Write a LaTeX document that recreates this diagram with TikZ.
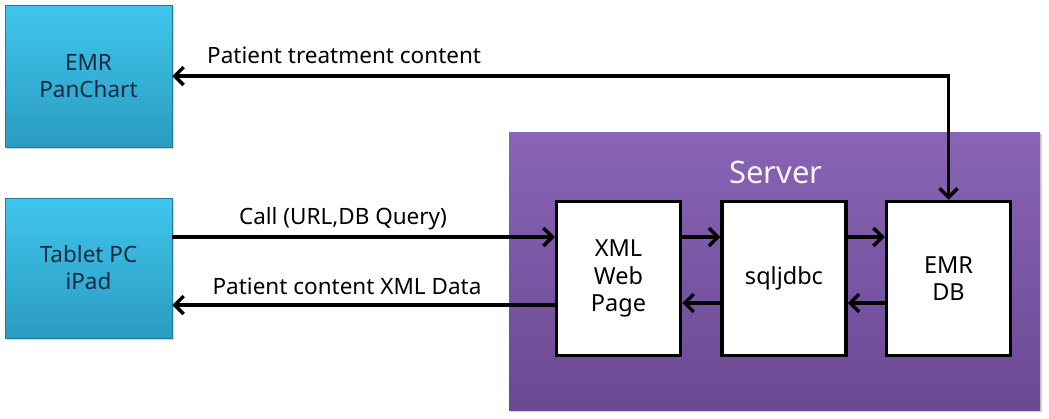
\documentclass[tikz,border=0pt]{standalone}
\usepackage{fontspec}
\setmainfont{Noto Sans}
\usetikzlibrary{arrows.meta,shadows,calc}
\definecolor{cyanT}{HTML}{40C6EC}
\definecolor{cyanB}{HTML}{2A9BC2}
\definecolor{purT}{HTML}{8964B6}
\definecolor{purB}{HTML}{6A4992}
\definecolor{navy}{HTML}{1A2A40}
\tikzset{
  devbox/.style={rectangle, top color=cyanT, bottom color=cyanB, draw=cyanB!80!black, line width=0.5pt,
    text=navy, font=\fontsize{22.5}{27}\selectfont, align=center, inner sep=0pt,
    drop shadow={shadow xshift=2pt, shadow yshift=-2pt, opacity=0.35}},
  srvbox/.style={rectangle, top color=purT, bottom color=purB, draw=none, inner sep=0pt,
    drop shadow={shadow xshift=2pt, shadow yshift=-2pt, opacity=0.35}},
  compbox/.style={rectangle, fill=white, draw=black, line width=3.5pt, text=black,
    font=\fontsize{23.5}{27.5}\selectfont, align=center, inner sep=0pt,
    minimum width=124pt, minimum height=154pt},
  tip/.tip={Straight Barb[length=9pt,width=18pt,line width=3.5pt]},
  arr/.style={line width=3.5pt, draw=black, -tip},
  biarr/.style={line width=3.5pt, draw=black, tip-tip},
  lbl/.style={font=\fontsize{22.5}{27}\selectfont, text=black, inner sep=0pt}
}
\begin{document}
\begin{tikzpicture}[x=1pt,y=-1pt]
\useasboundingbox (0,0) rectangle (1049,418);
\node[devbox, minimum width=167pt, minimum height=142pt] (panchart) at (88.5,76) {EMR\\PanChart};
\node[devbox, minimum width=167pt, minimum height=140pt] (tablet) at (88.5,268) {Tablet PC\\iPad};
\node[srvbox, minimum width=531pt, minimum height=278pt] (server) at (774.5,271) {};
\node[font=\fontsize{31}{35}\selectfont, text=white!92!purT, inner sep=0pt] (srvlabel) at (776,172) {Server};
\node[compbox] (xml) at (618.5,278.5) {XML\\Web\\Page};
\node[compbox] (sql) at (784,278.5) {sqljdbc};
\node[compbox] (emrdb) at (948.5,278.5) {EMR\\DB};
% top connector
\draw[biarr] (panchart.east) -| (emrdb.north);
\node[lbl, anchor=west] (lt) at (207,55) {Patient treatment content};
% call
\draw[arr] ([yshift=31pt]tablet.east) -- ([yshift=31pt]tablet.east -| xml.west);
\node[lbl] (lc) at (343,219) {Call (URL,DB Query)};
\draw[arr] ([yshift=-37pt]tablet.east -| xml.west) -- ([yshift=-37pt]tablet.east);
\node[lbl] (lp) at (347,286) {Patient content XML Data};
% inner
\draw[arr] ([yshift=41.5pt]xml.east) -- ([yshift=41.5pt]sql.west);
\draw[arr] ([yshift=41.5pt]sql.east) -- ([yshift=41.5pt]emrdb.west);
\draw[arr] ([yshift=-24.5pt]sql.west) -- ([yshift=-24.5pt]xml.east);
\draw[arr] ([yshift=-24.5pt]emrdb.west) -- ([yshift=-24.5pt]sql.east);
\end{tikzpicture}
\end{document}
